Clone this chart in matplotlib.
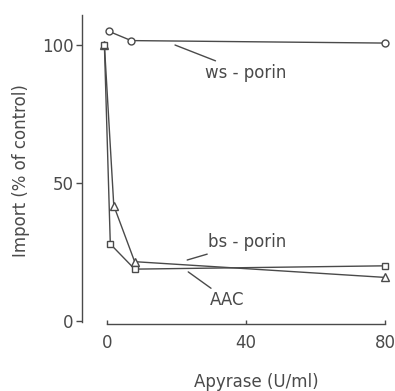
import numpy as np
import matplotlib.pyplot as plt

# data (apyrase U/ml vs import % of control)
ws_x = [0.5, 7, 80]
ws_y = [105, 101.6, 100.7]

bs_x = [-0.7, 2, 8, 80]
bs_y = [100, 41.8, 21.5, 15.8]

aac_x = [-0.7, 1, 8, 80]
aac_y = [100, 27.9, 18.8, 20]

xticks = [0, 40, 80]
yticks = [0, 50, 100]

col = '#4a4a4a'
plt.rcParams['font.family'] = 'DejaVu Sans'

fig = plt.figure(figsize=(3.95, 3.91), dpi=100)
ax = fig.add_axes([0.2, 0.1578, 0.7926, 0.8118])

ax.plot(ws_x, ws_y, '-o', color=col, lw=1, ms=5, mfc='white', mew=1)
ax.plot(bs_x, bs_y, '-^', color=col, lw=1, ms=5.5, mfc='white', mew=1)
ax.plot(aac_x, aac_y, '-s', color=col, lw=1, ms=5, mfc='white', mew=1)

ax.set_xlim(-8, 82)
ax.set_ylim(-3, 112)

for s in ['top', 'right']:
    ax.spines[s].set_visible(False)
ax.spines['left'].set_position(('data', -7.1))
ax.spines['bottom'].set_position(('data', -1.1))
ax.spines['left'].set_bounds(-0.4, 111)
ax.spines['bottom'].set_bounds(0, 80)
for s in ['left', 'bottom']:
    ax.spines[s].set_color(col)
    ax.spines[s].set_linewidth(1)

ax.set_xticks(xticks)
ax.set_yticks(yticks)
ax.tick_params(axis='y', direction='out', length=4, width=1, pad=2,
               colors=col, labelsize=12)
ax.tick_params(axis='x', direction='in', length=3, width=1, pad=7,
               colors=col, labelsize=12)

ax.set_xlabel('Apyrase (U/ml)', fontsize=12, color=col)
ax.set_ylabel('Import (% of control)', fontsize=12, color=col)
ax.xaxis.set_label_coords(0.565, -0.139)
ax.yaxis.set_label_coords(-0.158, 0.5)

lbl = dict(arrowprops=dict(arrowstyle='-', color=col, lw=1,
                           shrinkA=0, shrinkB=0),
           fontsize=12, color=col, va='center', ha='left')
ax.annotate('ws - porin', xy=(19.6, 100), xytext=(28.2, 90), **lbl)
ax.annotate('bs - porin', xy=(23.1, 22.1), xytext=(29.1, 28.5), **lbl)
ax.annotate('AAC', xy=(23.4, 17.8), xytext=(29.7, 7.6), **lbl)

fig.savefig('out.png')
